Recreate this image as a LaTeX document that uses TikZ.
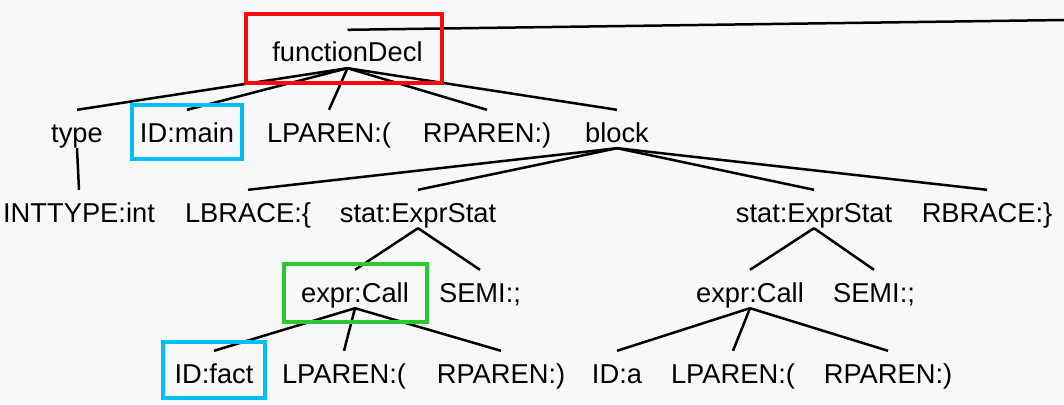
\documentclass[tikz,border=0pt]{standalone}
\usepackage{fontspec}
\setmainfont{Liberation Sans}
\usepackage{tikz}
\usetikzlibrary{
    calc
}
\definecolor{PaperGray}{RGB}{247,248,250}
\definecolor{MarkRed}{RGB}{250,10,10}
\definecolor{MarkBlue}{RGB}{0,190,250}
\definecolor{MarkGreen}{RGB}{45,200,45}

\begin{document}
\begin{tikzpicture}[
    x=1pt,
    y=-1pt,
    tok/.style={anchor=base, inner sep=0pt, text height=32pt, text depth=6pt,
        font=\fontsize{27.3}{30}\selectfont},
    edge/.style={line width=2.5pt},
    hlbox/.style={line width=3.5pt}
]

\fill[PaperGray] (0,0) rectangle (1064,404);
\useasboundingbox (0,0) rectangle (1064,404);

\coordinate (up) at (1064,20);

\node[tok] (fdecl)   at (347.5,62) {functionDecl};

\node[tok] (type)    at (77,142)   {type};
\node[tok] (idmain)  at (187,142)  {ID:main};
\node[tok] (lparA)   at (329,142)  {LPAREN:(};
\node[tok] (rparA)   at (487,142)  {RPAREN:)};
\node[tok] (block)   at (617,142)  {block};

\node[tok] (inttype) at (79,222)   {INTTYPE:int};
\node[tok] (lbrace)  at (248,222)  {LBRACE:\{};
\node[tok] (statA)   at (418,222)  {stat:ExprStat};
\node[tok] (statB)   at (814,222)  {stat:ExprStat};
\node[tok] (rbrace)  at (987,222)  {RBRACE:\}};

\node[tok] (callA)   at (355,302)  {expr:Call};
\node[tok] (semiA)   at (480,302)  {SEMI:;};
\node[tok] (callB)   at (750,302)  {expr:Call};
\node[tok] (semiB)   at (874,302)  {SEMI:;};

\node[tok] (idfact)  at (214,383)  {ID:fact};
\node[tok] (lparB)   at (344,383)  {LPAREN:(};
\node[tok] (rparB)   at (501,383)  {RPAREN:)};
\node[tok] (ida)     at (617,383)  {ID:a};
\node[tok] (lparC)   at (733,383)  {LPAREN:(};
\node[tok] (rparC)   at (888,383)  {RPAREN:)};

\draw[edge] (fdecl.north) -- (up);

\foreach \kid in {type,idmain,lparA,rparA,block}
    \draw[edge] (fdecl.south) -- (\kid.north);

\draw[edge] (type.south) -- (inttype.north);

\foreach \kid in {lbrace,statA,statB,rbrace}
    \draw[edge] (block.south) -- (\kid.north);

\draw[edge] (statA.south) -- (callA.north);
\draw[edge] (statA.south) -- (semiA.north);
\draw[edge] (statB.south) -- (callB.north);
\draw[edge] (statB.south) -- (semiB.north);

\foreach \kid in {idfact,lparB,rparB}
    \draw[edge] (callA.south) -- (\kid.north);
\foreach \kid in {ida,lparC,rparC}
    \draw[edge] (callB.south) -- (\kid.north);

\draw[hlbox, MarkRed]   (246,14)  rectangle (442,83);
\draw[hlbox, MarkBlue]  (132,105) rectangle (242,159);
\draw[hlbox, MarkGreen] (284,264) rectangle (427,322);
\draw[hlbox, MarkBlue]  (163,342) rectangle (265,398);

\end{tikzpicture}
\end{document}
